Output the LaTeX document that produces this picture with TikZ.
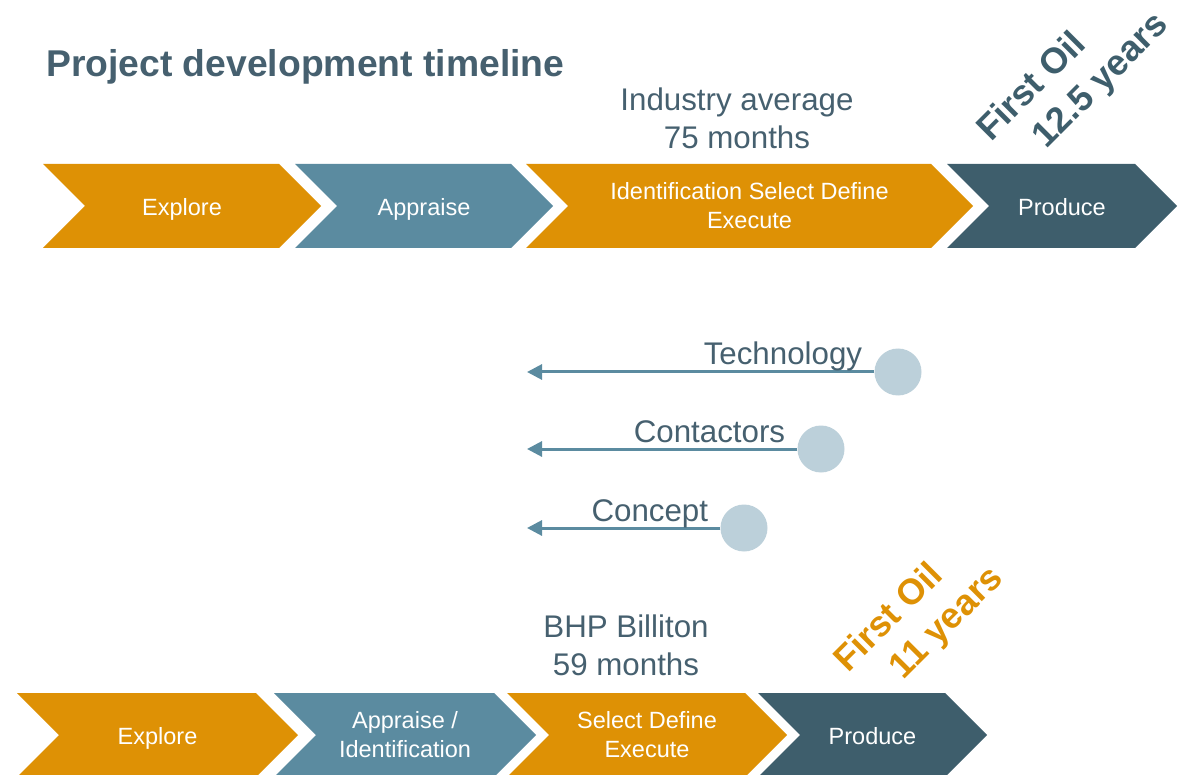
\documentclass[tikz,border=0pt]{standalone}
\usepackage{fontspec}
\setmainfont{Liberation Sans}
\usetikzlibrary{arrows.meta}
\definecolor{cOrange}{HTML}{DE9105}
\definecolor{cBlue}{HTML}{5B8BA0}
\definecolor{cDark}{HTML}{3E5E6C}
\definecolor{cCircle}{HTML}{BCD0DA}
\definecolor{cText}{HTML}{46606F}
% chevron: left x, tip x, middle y, colour
\newcommand{\chevpath}[4]{\fill[#4] (#1,#3-42) -- (#2-42,#3-42) -- (#2,#3) -- (#2-42,#3+42) -- (#1,#3+42) -- (#1+42,#3) -- cycle;}
\tikzset{
  chevtxt/.style={text=white, inner sep=0pt, align=center, font=\fontsize{23.5}{29}\selectfont},
  chevone/.style={chevtxt, text height=16.8pt, text depth=0pt},
  lbl/.style={text=cText, inner sep=0pt, font=\fontsize{31.3}{38}\selectfont},
  rottxt/.style={rotate=45, inner sep=0pt, font=\bfseries\fontsize{36}{40}\selectfont},
  dot/.style={circle, fill=cCircle, minimum size=47pt, inner sep=0pt},
  arr/.style={draw=cBlue, line width=3pt, -{Triangle[length=15pt,width=15pt]}}
}
\begin{document}
\begin{tikzpicture}[x=1pt,y=-1pt]
\useasboundingbox (0,0) rectangle (1191,775);
\clip (0,0) rectangle (1191,775);

% title
\node[anchor=base west, inner sep=0pt, text=cText, font=\bfseries\fontsize{37.3}{44}\selectfont] (title) at (46,76.5) {Project development timeline};

% industry average
\node[lbl, align=center, anchor=north] (ind) at (737,87.6) {Industry average\\75 months};
\node[rottxt, text=cDark] (fo1a) at (1030,85) {First Oil};
\node[rottxt, text=cDark] (fo1b) at (1102,82) {12.5 years};

% top row
\chevpath{43}{321}{206}{cOrange}
\chevpath{295}{553}{206}{cBlue}
\chevpath{526}{973}{206}{cOrange}
\chevpath{947}{1177}{206}{cDark}
\node[chevone] (t1) at (182,207) {Explore};
\node[chevone] (t2) at (424,207) {Appraise};
\node[chevtxt] (t3) at (749.5,206) {Identification Select Define\\Execute};
\node[chevone] (t4) at (1062,207) {Produce};

% arrows with circles
\node[dot] (tech) at (898,372) {};
\node[dot] (cont) at (821,449) {};
\node[dot] (conc) at (744,528) {};
\coordinate (techend) at (527,372);
\coordinate (contend) at (527,449);
\coordinate (concend) at (527,528);
\draw[arr] (tech.west) -- (techend);
\draw[arr] (cont.west) -- (contend);
\draw[arr] (conc.west) -- (concend);
\node[lbl, anchor=base east] (techlbl) at ([xshift=-12pt,yshift=7pt]tech.west) {Technology};
\node[lbl, anchor=base east] (contlbl) at ([xshift=-12pt,yshift=7pt]cont.west) {Contactors};
\node[lbl, anchor=base east] (conclbl) at ([xshift=-12pt,yshift=7pt]conc.west) {Concept};

% BHP Billiton
\node[lbl, align=center, anchor=north] (bhp) at (626,614.6) {BHP Billiton\\59 months};
\node[rottxt, text=cOrange] (fo2a) at (887,616) {First Oil};
\node[rottxt, text=cOrange] (fo2b) at (948,624) {11 years};

% bottom row
\chevpath{17}{298}{735}{cOrange}
\chevpath{274}{536}{735}{cBlue}
\chevpath{507}{787}{735}{cOrange}
\chevpath{758}{987}{735}{cDark}
\node[chevone] (b1) at (157.5,736) {Explore};
\node[chevtxt] (b2) at (405,735) {Appraise /\\Identification};
\node[chevtxt] (b3) at (647,735) {Select Define\\Execute};
\node[chevone] (b4) at (872.5,736) {Produce};
\end{tikzpicture}
\end{document}
